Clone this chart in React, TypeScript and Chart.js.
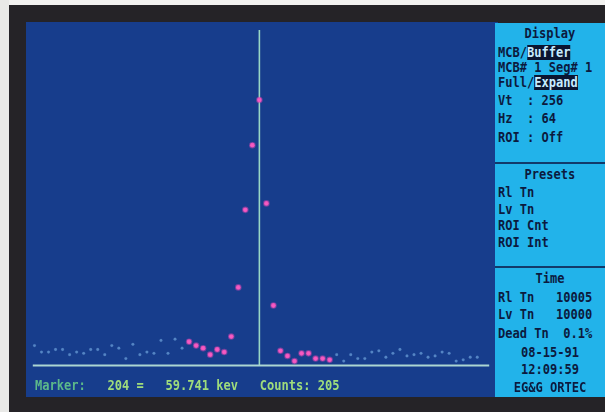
import React, { useEffect, useRef } from "react";
import { Chart, registerables } from "chart.js";

Chart.register(...registerables);

// Spectrum: 64 channels shown (expanded view), marker at channel 204
const channels: number[] = Array.from({ length: 64 }, (_, i) => 172 + i);
const counts: number[] = [
  15, 10, 10, 12, 12, 8, 10, 9, 12, 12,
  8, 15, 13, 5, 16, 8, 10, 9, 19, 9,
  20, 13, 18, 15, 13, 8, 12, 10, 22, 60,
  120, 170, 205, 125, 46, 11, 7, 3, 9, 9,
  5, 5, 4, 8, 3, 8, 5, 5, 10, 11,
  6, 9, 12, 7, 8, 9, 6, 7, 10, 9,
  3, 4, 6, 6,
];
const roiStart = 194;
const roiEnd = 214;
const markerChannel = 204;
const verticalScale = 256;

const statusLabel = "Marker:";
const statusText = "   204 =   59.741 kev   Counts: 205";

type PanelLine = { y: number; text: string; align?: "left" | "center"; hi?: [string, string] };
const panelLines: PanelLine[] = [
  { y: 33, text: "Display", align: "center" },
  { y: 52, text: "", hi: ["MCB/", "Buffer"] },
  { y: 67, text: "MCB# 1 Seg# 1" },
  { y: 82, text: "", hi: ["Full/", "Expand"] },
  { y: 100, text: "Vt  : 256" },
  { y: 118, text: "Hz  : 64" },
  { y: 137, text: "ROI : Off" },
  { y: 174, text: "Presets", align: "center" },
  { y: 192, text: "Rl Tn" },
  { y: 209, text: "Lv Tn" },
  { y: 225, text: "ROI Cnt" },
  { y: 242, text: "ROI Int" },
  { y: 278, text: "Time", align: "center" },
  { y: 297, text: "Rl Tn   10005" },
  { y: 314, text: "Lv Tn   10000" },
  { y: 333, text: "Dead Tn  0.1%" },
  { y: 352, text: "08-15-91", align: "center" },
  { y: 369, text: "12:09:59", align: "center" },
  { y: 387, text: "EG&G ORTEC", align: "center" },
];
const dividers: number[] = [163, 267];

const PANEL_LEFT = 495;
const PANEL_TOP = 23;

export default function App() {
  const canvasRef = useRef<HTMLCanvasElement | null>(null);

  useEffect(() => {
    const canvas = canvasRef.current;
    if (!canvas) return;
    const inRoi = (c: number) => c >= roiStart && c <= roiEnd;

    const linesPlugin = {
      id: "mcaLines",
      beforeDatasetsDraw(chart: any) {
        const { ctx, chartArea, scales } = chart;
        ctx.save();
        const mx = scales.x.getPixelForValue(markerChannel);
        ctx.strokeStyle = "#98d6c4";
        ctx.lineWidth = 1.6;
        ctx.beginPath();
        ctx.moveTo(mx, 8);
        ctx.lineTo(mx, chartArea.bottom);
        ctx.stroke();
        ctx.strokeStyle = "#acd6d2";
        ctx.lineWidth = 2;
        ctx.beginPath();
        ctx.moveTo(chartArea.left + 1, chartArea.bottom + 0.5);
        ctx.lineTo(chartArea.right, chartArea.bottom + 0.5);
        ctx.stroke();
        ctx.restore();
      },
    };

    const chart = new Chart(canvas, {
      type: "scatter",
      data: {
        datasets: [
          {
            data: channels.map((c, i) => ({ x: c, y: counts[i] })),
            pointBackgroundColor: channels.map((c) => (inRoi(c) ? "#f65cc2" : "#5585c4")),
            pointBorderColor: channels.map((c) => (inRoi(c) ? "rgba(225,70,180,0.45)" : "rgba(85,133,196,0.35)")),
            pointBorderWidth: channels.map((c) => (inRoi(c) ? 1.8 : 0.6)),
            pointRadius: channels.map((c) => (inRoi(c) ? 2.4 : 1.4)),
            showLine: false,
            clip: false as any,
          },
        ],
      },
      options: {
        animation: false,
        responsive: false,
        maintainAspectRatio: false,
        events: [],
        layout: { padding: { left: 2, right: 1, top: 12, bottom: 32 } },
        plugins: { legend: { display: false }, tooltip: { enabled: false } },
        scales: {
          x: { type: "linear", min: 171.62, max: 236.7, display: false },
          y: { type: "linear", min: 0, max: verticalScale, display: false },
        },
      },
      plugins: [linesPlugin],
    });
    return () => chart.destroy();
  }, []);

  const mono = "'DejaVu Sans Mono', monospace";

  return (
    <div
      style={{
        position: "fixed",
        left: 0,
        top: 0,
        width: 605,
        height: 412,
        background: "#252327",
        overflow: "hidden",
      }}
    >
      <div style={{ position: "absolute", left: 0, top: 0, width: 605, height: 5, background: "#f2f2f0" }} />
      <div style={{ position: "absolute", left: 0, top: 0, width: 9, height: 412, background: "#e9e9e7" }} />
      <div
        style={{
          position: "absolute",
          left: 26,
          top: 22,
          width: 472,
          height: 375,
          background: "#173d8c",
        }}
      />
      <canvas
        ref={canvasRef}
        width={469}
        height={375}
        style={{ position: "absolute", left: 26, top: 22, width: 469, height: 375 }}
      />
      <div
        style={{
          position: "absolute",
          left: 35,
          top: 376,
          height: 18,
          lineHeight: "18px",
          fontFamily: mono,
          fontSize: 14,
          fontWeight: "bold",
          transform: "scaleX(0.86)",
          transformOrigin: "left center",
          whiteSpace: "pre",
        }}
      >
        <span style={{ color: "#5cb98a" }}>{statusLabel}</span>
        <span style={{ color: "#9fdc7c" }}>{statusText}</span>
      </div>
      <div
        style={{
          position: "absolute",
          left: PANEL_LEFT,
          top: PANEL_TOP,
          width: 605 - PANEL_LEFT,
          height: 397 - PANEL_TOP,
          background: "#22b3ea",
        }}
      >
        {dividers.map((d) => (
          <div
            key={d}
            style={{ position: "absolute", left: 0, right: 0, top: d - PANEL_TOP - 1, height: 2, background: "#123a6a" }}
          />
        ))}
        {panelLines.map((l, idx) => (
          <div
            key={idx}
            style={{
              position: "absolute",
              left: l.align === "center" ? 0 : 3,
              width: l.align === "center" ? 110 : 130,
              top: l.y - PANEL_TOP - 9,
              height: 18,
              lineHeight: "18px",
              textAlign: l.align === "center" ? "center" : "left",
              fontFamily: mono,
              fontSize: 14,
              fontWeight: "bold",
              transform: "scaleX(0.86)",
              transformOrigin: l.align === "center" ? "55px 50%" : "left center",
              color: "#0c1a3e",
              whiteSpace: "pre",
            }}
          >
            {l.hi ? (
              <>
                {l.hi[0]}
                <span style={{ background: "#0b1430", color: "#c8ecff", lineHeight: "15px", display: "inline-block" }}>{l.hi[1]}</span>
              </>
            ) : (
              l.text
            )}
          </div>
        ))}
      </div>
    </div>
  );
}
